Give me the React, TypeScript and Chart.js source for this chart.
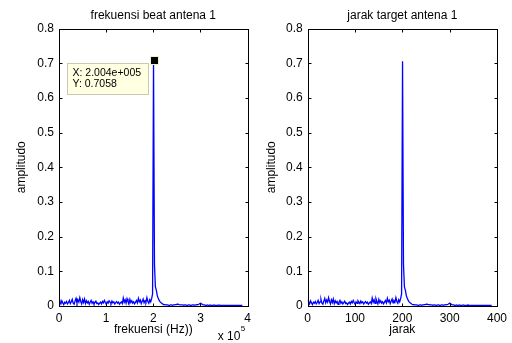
import React, { useEffect, useRef } from "react";
import { Chart, registerables } from "chart.js";

Chart.register(...registerables);

// ---- data ----
const FREQ_STEP_HZ = 2004; // spacing of FFT bins (Hz)
const HZ_TO_JARAK = 1 / 1000; // jarak axis = frequency / 1000

const AMPLITUDE = [
  0.018, 0.012, 0.006, 0.015, 0.009, 0.004, 0.011, 0.008, 0.013, 0.006,
  0.010, 0.016, 0.007, 0.012, 0.019, 0.008, 0.005, 0.014, 0.022, 0.009,
  0.017, 0.011, 0.024, 0.013, 0.006, 0.018, 0.010, 0.020, 0.007, 0.015,
  0.009, 0.013, 0.005, 0.011, 0.016, 0.008, 0.012, 0.006, 0.010, 0.014,
  0.007, 0.009, 0.004, 0.008, 0.011, 0.006, 0.013, 0.009, 0.016, 0.010,
  0.005, 0.012, 0.008, 0.015, 0.011, 0.007, 0.014, 0.009, 0.012, 0.006,
  0.010, 0.013, 0.008, 0.011, 0.005, 0.009, 0.012, 0.007, 0.023, 0.011,
  0.018, 0.008, 0.021, 0.013, 0.006, 0.019, 0.010, 0.015, 0.008, 0.012,
  0.006, 0.011, 0.016, 0.009, 0.022, 0.012, 0.017, 0.007, 0.014, 0.020,
  0.009, 0.015, 0.011, 0.024, 0.013, 0.008, 0.018, 0.012,
  0.021, 0.035, 0.7058, 0.12, 0.055, 0.045, 0.03, 0.022, 0.016, 0.012,
  0.009, 0.007, 0.005,
  0.004, 0.004, 0.003, 0.003, 0.003, 0.002, 0.002, 0.003, 0.003, 0.002,
  0.003, 0.003, 0.004, 0.004,
  0.005, 0.005, 0.004, 0.004, 0.003, 0.003, 0.003, 0.002, 0.003, 0.003,
  0.002, 0.002, 0.003, 0.003, 0.002, 0.002, 0.003, 0.003, 0.002, 0.003,
  0.003, 0.004,
  0.004, 0.005, 0.007, 0.008, 0.006, 0.004, 0.003, 0.003,
  0.002, 0.002, 0.003, 0.002, 0.002, 0.003, 0.002, 0.002, 0.002, 0.003,
  0.002, 0.002, 0.002, 0.002, 0.003, 0.002, 0.002, 0.002, 0.002, 0.002,
  0.002, 0.002, 0.002, 0.002, 0.002, 0.002, 0.002, 0.002, 0.002, 0.002,
  0.002, 0.002, 0.002, 0.002, 0.002, 0.002, 0.002, 0.002, 0.002, 0.002,
];

const PEAK_INDEX = 100;

const Y_TICKS = [0, 0.1, 0.2, 0.3, 0.4, 0.5, 0.6, 0.7, 0.8];
const Y_TICK_LABELS = ["0", "0.1", "0.2", "0.3", "0.4", "0.5", "0.6", "0.7", "0.8"];
const FREQ_TICKS = [0, 100000, 200000, 300000, 400000];
const FREQ_TICK_LABELS = ["0", "1", "2", "3", "4"];
const JARAK_TICKS = [0, 100, 200, 300, 400];
const JARAK_TICK_LABELS = ["0", "100", "200", "300", "400"];

const TITLE_LEFT = "frekuensi beat antena 1";
const TITLE_RIGHT = "jarak target antena 1";
const XLABEL_LEFT = "frekuensi (Hz))";
const XLABEL_RIGHT = "jarak";
const YLABEL = "amplitudo";
const DATATIP_LINES = ["X: 2.004e+005", "Y: 0.7058"];

const FONT = "'Liberation Sans', Arial, Helvetica, sans-serif";

// ---- plugin drawing MATLAB style frame, titles, datatip ----
const framePlugin = {
  id: "matlabFrame",
  afterDraw(chart: any, _args: any, opts: any) {
    const { ctx, chartArea: a, scales } = chart;
    const xs = scales.x;
    const ys = scales.y;
    ctx.save();
    ctx.strokeStyle = "#000";
    ctx.lineWidth = 1;
    const L = Math.round(a.left) + 0.5;
    const R = Math.round(a.right) + 0.5;
    const T = Math.round(a.top) + 0.5;
    const B = Math.round(a.bottom) + 0.5;
    ctx.strokeRect(L, T, R - L, B - T);
    const tl = 3;
    ctx.beginPath();
    for (const v of opts.xTicks) {
      const px = Math.round(xs.getPixelForValue(v)) + 0.5;
      ctx.moveTo(px, B);
      ctx.lineTo(px, B - tl);
      ctx.moveTo(px, T);
      ctx.lineTo(px, T + tl);
    }
    for (const v of opts.yTicks) {
      const py = Math.round(ys.getPixelForValue(v)) + 0.5;
      ctx.moveTo(L, py);
      ctx.lineTo(L + tl, py);
      ctx.moveTo(R, py);
      ctx.lineTo(R - tl, py);
    }
    ctx.stroke();

    ctx.fillStyle = "#000";
    ctx.font = `12px ${FONT}`;
    ctx.textAlign = "center";
    ctx.textBaseline = "middle";
    const cx = (a.left + a.right) / 2;
    ctx.fillText(opts.title, cx, 16);
    ctx.fillText(opts.xLabel, cx, 330);
    ctx.save();
    ctx.translate(opts.yLabelX, (a.top + a.bottom) / 2);
    ctx.rotate(-Math.PI / 2);
    ctx.fillText(opts.yLabel, 0, 0);
    ctx.restore();

    if (opts.exponent) {
      ctx.textAlign = "left";
      ctx.font = `12px ${FONT}`;
      ctx.fillText("x 10", a.right - 30, 337);
      ctx.font = `8px ${FONT}`;
      ctx.fillText(opts.exponent, a.right - 7, 329);
    }

    if (opts.datatip) {
      const px = xs.getPixelForValue(opts.datatip.x);
      const py = ys.getPixelForValue(opts.datatip.y);
      const bw = 81;
      const bh = 31;
      const bx = Math.round(px - 6 - bw) + 0.5;
      const by = Math.round(py + 2) + 0.5;
      ctx.fillStyle = "#ffffe1";
      ctx.strokeStyle = "#c8c8b4";
      ctx.fillRect(bx, by, bw, bh);
      ctx.strokeRect(bx, by, bw, bh);
      ctx.fillStyle = "#000";
      ctx.font = `10.5px ${FONT}`;
      ctx.textAlign = "left";
      ctx.textBaseline = "middle";
      ctx.fillText(opts.datatip.lines[0], bx + 5, by + 10);
      ctx.fillText(opts.datatip.lines[1], bx + 5, by + 21);
      // marker
      ctx.fillStyle = "#f0f0c0";
      ctx.fillRect(Math.round(px) - 4, Math.round(py) - 5, 9, 9);
      ctx.fillStyle = "#000";
      ctx.fillRect(Math.round(px) - 3, Math.round(py) - 4, 7, 7);
    }
    ctx.restore();
  },
};

function makeConfig(p: {
  xValues: number[];
  xMax: number;
  xTicks: number[];
  xTickLabels: string[];
  yAxisWidth: number;
  rightPad: number;
  title: string;
  xLabel: string;
  yLabelX: number;
  exponent?: string;
  datatip?: any;
}): any {
  const points = AMPLITUDE.map((y, i) => ({ x: p.xValues[i], y }));
  return {
    type: "line",
    data: {
      datasets: [
        {
          data: points,
          borderColor: "#0000ff",
          borderWidth: 1.3,
          pointRadius: 0,
          tension: 0,
          fill: false,
        },
      ],
    },
    options: {
      responsive: false,
      animation: false,
      layout: { padding: { top: 28.5, right: p.rightPad, bottom: 0, left: 0 } },
      plugins: {
        legend: { display: false },
        tooltip: { enabled: false },
        title: { display: false },
        matlabFrame: {
          xTicks: p.xTicks,
          yTicks: Y_TICKS,
          title: p.title,
          xLabel: p.xLabel,
          yLabel: YLABEL,
          yLabelX: p.yLabelX,
          exponent: p.exponent,
          datatip: p.datatip,
        },
      },
      scales: {
        x: {
          type: "linear",
          min: 0,
          max: p.xMax,
          grid: { display: false, drawTicks: false },
          border: { display: false },
          afterBuildTicks: (s: any) => {
            s.ticks = p.xTicks.map((v) => ({ value: v }));
          },
          afterFit: (s: any) => {
            s.height = 37;
          },
          ticks: {
            color: "#000",
            padding: 5,
            maxRotation: 0,
            autoSkip: false,
            font: { family: FONT, size: 12 },
            callback: (_v: any, i: number) => p.xTickLabels[i],
          },
        },
        y: {
          type: "linear",
          min: 0,
          max: 0.8,
          grid: { display: false, drawTicks: false },
          border: { display: false },
          afterBuildTicks: (s: any) => {
            s.ticks = Y_TICKS.map((v) => ({ value: v }));
          },
          afterFit: (s: any) => {
            s.width = p.yAxisWidth;
          },
          ticks: {
            color: "#000",
            padding: 5,
            autoSkip: false,
            font: { family: FONT, size: 12 },
            callback: (_v: any, i: number) => Y_TICK_LABELS[i],
          },
        },
      },
    },
    plugins: [framePlugin],
  };
}

export default function App() {
  const leftRef = useRef<HTMLCanvasElement>(null);
  const rightRef = useRef<HTMLCanvasElement>(null);

  useEffect(() => {
    const freqX = AMPLITUDE.map((_, i) => i * FREQ_STEP_HZ);
    const jarakX = freqX.map((f) => f * HZ_TO_JARAK);
    const left = new Chart(
      leftRef.current!,
      makeConfig({
        xValues: freqX,
        xMax: 400000,
        xTicks: FREQ_TICKS,
        xTickLabels: FREQ_TICK_LABELS,
        yAxisWidth: 59,
        rightPad: 7.5,
        title: TITLE_LEFT,
        xLabel: XLABEL_LEFT,
        yLabelX: 22,
        exponent: "5",
        datatip: {
          x: freqX[PEAK_INDEX],
          y: AMPLITUDE[PEAK_INDEX],
          lines: DATATIP_LINES,
        },
      })
    );
    const right = new Chart(
      rightRef.current!,
      makeConfig({
        xValues: jarakX,
        xMax: 400,
        xTicks: JARAK_TICKS,
        xTickLabels: JARAK_TICK_LABELS,
        yAxisWidth: 51.7,
        rightPad: 14.3,
        title: TITLE_RIGHT,
        xLabel: XLABEL_RIGHT,
        yLabelX: 16,
      })
    );
    return () => {
      left.destroy();
      right.destroy();
    };
  }, []);

  return (
    <div
      style={{
        position: "absolute",
        left: 0,
        top: 0,
        width: 512,
        height: 343,
        background: "#fff",
      }}
    >
      <canvas
        ref={leftRef}
        width={256}
        height={343}
        style={{ position: "absolute", left: 0, top: 0, display: "block" }}
      />
      <canvas
        ref={rightRef}
        width={256}
        height={343}
        style={{ position: "absolute", left: 256, top: 0, display: "block" }}
      />
    </div>
  );
}
